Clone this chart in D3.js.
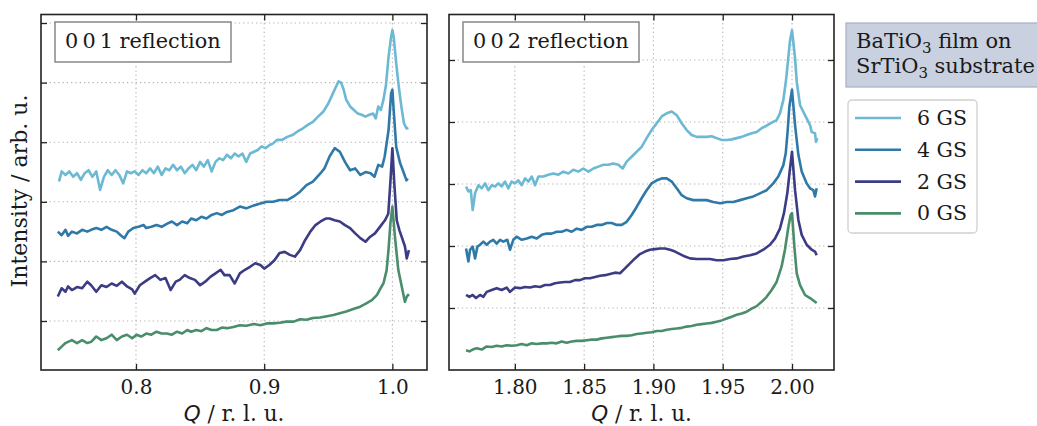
<!DOCTYPE html>
<html>
<head>
<meta charset="utf-8">
<script src="https://cdn.jsdelivr.net/npm/d3@7/dist/d3.min.js"></script>
<style>
  body { margin: 0; background: #fff; }
  text { font-family: "DejaVu Serif", serif; fill: #1a1a1a; }
</style>
</head>
<body>
<script>
//XRD scans of BaTiO3 on SrTiO3, two reflections, four growth stages

var seriesNames = ["6 GS", "4 GS", "2 GS", "0 GS"];
var seriesColors = ["#6cb9d3", "#2e79a8", "#3b3c84", "#4a8d6b"];

var xTicks001 = [0.8, 0.9, 1.0];
var yTicks001 = [1, 2, 3, 4, 5, 6];
var xTicks002 = [1.80, 1.85, 1.90, 1.95, 2.00];
var yTicks002 = [1, 2, 3, 4, 5];

// 0 0 1 reflection, [Q, intensity] (arb. u., offset per stage)
var gs6_001 = [[0.740,3.34],[0.742,3.51],[0.745,3.45],[0.748,3.51],[0.751,3.42],[0.754,3.48],[0.757,3.37],[0.760,3.48],[0.763,3.53],[0.766,3.42],[0.769,3.51],[0.772,3.20],[0.775,3.42],[0.778,3.53],[0.781,3.45],[0.784,3.53],[0.787,3.45],[0.790,3.31],[0.793,3.51],[0.796,3.48],[0.799,3.51],[0.802,3.45],[0.805,3.53],[0.808,3.48],[0.811,3.56],[0.814,3.48],[0.817,3.59],[0.820,3.45],[0.823,3.56],[0.826,3.53],[0.829,3.62],[0.832,3.53],[0.835,3.59],[0.838,3.48],[0.841,3.56],[0.844,3.62],[0.847,3.53],[0.850,3.67],[0.853,3.59],[0.856,3.70],[0.859,3.51],[0.862,3.67],[0.865,3.73],[0.868,3.70],[0.871,3.79],[0.874,3.73],[0.877,3.81],[0.880,3.76],[0.883,3.81],[0.886,3.67],[0.889,3.81],[0.892,3.84],[0.895,3.87],[0.898,3.93],[0.901,3.90],[0.904,3.95],[0.907,3.98],[0.910,4.04],[0.914,4.04],[0.918,4.09],[0.922,4.12],[0.926,4.18],[0.930,4.23],[0.934,4.29],[0.938,4.34],[0.942,4.43],[0.946,4.51],[0.950,4.65],[0.953,4.79],[0.956,4.93],[0.958,5.02],[0.960,5.00],[0.962,4.88],[0.964,4.71],[0.967,4.60],[0.970,4.54],[0.973,4.48],[0.976,4.46],[0.979,4.43],[0.982,4.46],[0.985,4.48],[0.987,4.40],[0.989,4.60],[0.991,4.54],[0.993,4.71],[0.995,4.96],[0.997,5.43],[0.999,5.77],[1.000,5.88],[1.001,5.77],[1.003,5.32],[1.005,4.93],[1.007,4.60],[1.009,4.32],[1.011,4.23],[1.0125,4.24]];
var gs4_001 = [[0.739,2.50],[0.742,2.44],[0.745,2.53],[0.747,2.43],[0.750,2.50],[0.754,2.47],[0.758,2.53],[0.762,2.50],[0.765,2.53],[0.769,2.56],[0.773,2.53],[0.777,2.58],[0.781,2.53],[0.785,2.50],[0.788,2.44],[0.791,2.39],[0.794,2.50],[0.798,2.56],[0.802,2.58],[0.806,2.61],[0.808,2.56],[0.812,2.58],[0.816,2.61],[0.820,2.58],[0.824,2.63],[0.828,2.67],[0.832,2.61],[0.836,2.67],[0.840,2.64],[0.843,2.72],[0.847,2.69],[0.851,2.75],[0.855,2.72],[0.859,2.78],[0.863,2.81],[0.867,2.78],[0.871,2.83],[0.876,2.86],[0.881,2.92],[0.886,2.89],[0.892,2.94],[0.897,2.97],[0.902,3.00],[0.907,3.00],[0.912,3.03],[0.918,3.03],[0.923,3.09],[0.928,3.17],[0.933,3.28],[0.938,3.34],[0.944,3.48],[0.947,3.56],[0.951,3.76],[0.955,3.90],[0.959,3.84],[0.963,3.67],[0.967,3.53],[0.971,3.56],[0.975,3.45],[0.979,3.50],[0.983,3.48],[0.986,3.42],[0.989,3.62],[0.992,3.59],[0.994,3.76],[0.997,4.20],[0.999,4.82],[1.000,4.88],[1.001,4.54],[1.003,3.92],[1.006,3.65],[1.009,3.48],[1.011,3.36],[1.012,3.39]];
var gs2_001 = [[0.739,1.41],[0.742,1.55],[0.745,1.49],[0.747,1.58],[0.750,1.52],[0.754,1.57],[0.758,1.55],[0.762,1.66],[0.765,1.60],[0.769,1.49],[0.773,1.60],[0.777,1.57],[0.781,1.63],[0.785,1.59],[0.789,1.66],[0.793,1.58],[0.797,1.53],[0.799,1.46],[0.803,1.60],[0.807,1.66],[0.811,1.72],[0.815,1.77],[0.819,1.69],[0.823,1.72],[0.827,1.52],[0.831,1.66],[0.834,1.69],[0.838,1.77],[0.842,1.72],[0.846,1.69],[0.850,1.60],[0.854,1.66],[0.858,1.74],[0.862,1.80],[0.866,1.86],[0.869,1.77],[0.873,1.77],[0.877,1.63],[0.881,1.80],[0.885,1.86],[0.889,1.91],[0.893,1.97],[0.897,1.94],[0.900,1.88],[0.904,1.94],[0.908,2.02],[0.912,2.14],[0.916,2.16],[0.920,2.11],[0.924,2.08],[0.928,2.19],[0.932,2.36],[0.936,2.50],[0.940,2.61],[0.944,2.67],[0.948,2.72],[0.951,2.72],[0.955,2.69],[0.959,2.67],[0.963,2.61],[0.967,2.56],[0.971,2.47],[0.975,2.39],[0.979,2.33],[0.9825,2.41],[0.9864,2.47],[0.9903,2.58],[0.9942,2.69],[0.9968,2.80],[0.9985,3.35],[1.000,3.90],[1.0015,3.30],[1.0034,2.69],[1.0055,2.52],[1.0073,2.41],[1.0098,2.25],[1.0112,2.05],[1.0129,2.19]];
var gs0_001 = [[0.739,0.51],[0.742,0.57],[0.745,0.63],[0.747,0.65],[0.750,0.68],[0.754,0.63],[0.758,0.68],[0.762,0.63],[0.765,0.65],[0.769,0.74],[0.773,0.68],[0.777,0.71],[0.781,0.77],[0.785,0.68],[0.789,0.74],[0.793,0.77],[0.797,0.71],[0.8005,0.77],[0.804,0.74],[0.808,0.79],[0.812,0.77],[0.816,0.82],[0.820,0.79],[0.824,0.79],[0.828,0.77],[0.832,0.82],[0.836,0.79],[0.840,0.85],[0.843,0.82],[0.847,0.85],[0.851,0.83],[0.855,0.88],[0.859,0.85],[0.863,0.85],[0.867,0.89],[0.871,0.88],[0.876,0.90],[0.881,0.93],[0.886,0.92],[0.892,0.95],[0.897,0.93],[0.902,0.96],[0.907,0.96],[0.912,0.97],[0.9175,0.99],[0.923,0.99],[0.928,1.03],[0.933,1.02],[0.938,1.05],[0.9435,1.06],[0.949,1.08],[0.954,1.10],[0.959,1.13],[0.964,1.16],[0.9695,1.20],[0.975,1.24],[0.980,1.30],[0.984,1.35],[0.988,1.44],[0.990,1.52],[0.993,1.63],[0.9955,1.85],[0.997,2.20],[0.9985,2.65],[1.000,2.92],[1.002,2.41],[1.0046,1.86],[1.0073,1.58],[1.0098,1.32],[1.0112,1.41],[1.0129,1.45]];

// 0 0 2 reflection
var gs6_002 = [[1.7648,2.96],[1.7665,2.88],[1.7682,2.90],[1.7696,2.58],[1.7713,2.85],[1.7737,2.98],[1.7761,2.93],[1.7785,3.01],[1.7809,2.90],[1.7833,2.98],[1.7857,2.96],[1.7881,3.01],[1.7905,2.96],[1.7929,3.04],[1.7953,2.93],[1.7977,3.04],[1.8001,3.01],[1.8025,3.06],[1.8050,2.98],[1.8074,3.09],[1.8098,3.04],[1.8122,3.12],[1.8146,2.98],[1.8170,3.12],[1.8206,3.12],[1.8242,3.15],[1.8278,3.17],[1.8314,3.15],[1.8350,3.20],[1.8386,3.17],[1.8422,3.23],[1.8458,3.20],[1.8494,3.25],[1.8531,3.20],[1.8567,3.25],[1.8603,3.28],[1.8639,3.31],[1.8675,3.31],[1.8711,3.33],[1.8747,3.31],[1.8778,3.25],[1.8807,3.36],[1.8843,3.44],[1.8879,3.52],[1.8915,3.60],[1.8951,3.74],[1.8987,3.87],[1.9024,3.98],[1.9060,4.09],[1.9096,4.14],[1.9132,4.17],[1.9168,4.11],[1.9204,3.98],[1.9240,3.87],[1.9276,3.79],[1.9312,3.76],[1.9348,3.76],[1.9384,3.76],[1.9420,3.77],[1.9456,3.74],[1.9493,3.71],[1.9529,3.71],[1.9565,3.72],[1.9601,3.74],[1.9637,3.76],[1.9673,3.79],[1.9709,3.82],[1.9745,3.84],[1.9781,3.90],[1.9817,3.94],[1.9853,3.99],[1.9889,4.03],[1.9913,4.14],[1.9937,4.35],[1.9957,4.68],[1.9974,5.05],[1.9986,5.32],[2.000,5.48],[2.0022,5.03],[2.0034,4.65],[2.0058,4.27],[2.0094,4.11],[2.0130,3.95],[2.0142,3.84],[2.0166,3.82],[2.0173,3.68],[2.0183,3.74]];
var gs4_002 = [[1.7648,1.96],[1.7665,1.75],[1.7677,1.94],[1.7696,1.99],[1.7713,1.80],[1.7730,1.99],[1.7749,2.02],[1.7773,2.07],[1.7797,2.02],[1.7821,2.07],[1.7845,2.10],[1.7869,2.04],[1.7893,2.10],[1.7917,2.07],[1.7946,2.10],[1.7965,1.94],[1.7989,2.10],[1.8013,2.15],[1.8050,2.10],[1.8086,2.12],[1.8122,2.15],[1.8158,2.12],[1.8194,2.18],[1.8230,2.20],[1.8266,2.20],[1.8302,2.23],[1.8338,2.23],[1.8374,2.26],[1.8410,2.23],[1.8446,2.28],[1.8482,2.26],[1.8519,2.31],[1.8555,2.31],[1.8591,2.34],[1.8627,2.34],[1.8663,2.37],[1.8699,2.37],[1.8735,2.34],[1.8771,2.34],[1.8807,2.39],[1.8843,2.50],[1.8879,2.63],[1.8915,2.77],[1.8951,2.90],[1.8987,3.01],[1.9024,3.06],[1.9060,3.09],[1.9096,3.09],[1.9132,3.04],[1.9168,2.93],[1.9204,2.82],[1.9240,2.77],[1.9288,2.74],[1.9336,2.74],[1.9384,2.74],[1.9432,2.71],[1.9481,2.69],[1.9529,2.71],[1.9577,2.71],[1.9625,2.74],[1.9673,2.77],[1.9721,2.80],[1.9769,2.85],[1.9817,2.90],[1.9865,3.01],[1.9901,3.12],[1.9937,3.30],[1.9955,3.50],[1.9968,3.84],[1.9981,4.25],[2.000,4.52],[2.0022,3.95],[2.0046,3.47],[2.0070,3.20],[2.0106,3.01],[2.0130,2.93],[2.0154,2.90],[2.0166,2.80],[2.0178,2.93]];
var gs2_002 = [[1.7648,1.21],[1.7672,1.18],[1.7696,1.21],[1.7720,1.16],[1.7749,1.21],[1.7773,1.18],[1.7797,1.26],[1.7833,1.29],[1.7869,1.32],[1.7905,1.29],[1.7941,1.33],[1.7965,1.26],[1.8001,1.33],[1.8037,1.32],[1.8074,1.34],[1.8110,1.33],[1.8146,1.35],[1.8182,1.34],[1.8218,1.37],[1.8254,1.37],[1.8290,1.40],[1.8326,1.41],[1.8362,1.42],[1.8398,1.42],[1.8434,1.45],[1.8470,1.45],[1.8506,1.48],[1.8543,1.48],[1.8579,1.50],[1.8615,1.52],[1.8651,1.53],[1.8687,1.55],[1.8723,1.57],[1.8759,1.56],[1.8795,1.64],[1.8831,1.72],[1.8867,1.80],[1.8903,1.87],[1.8939,1.91],[1.8975,1.94],[1.9012,1.95],[1.9048,1.96],[1.9084,1.96],[1.9120,1.94],[1.9156,1.91],[1.9192,1.87],[1.9228,1.83],[1.9264,1.80],[1.9312,1.79],[1.9360,1.79],[1.9408,1.79],[1.9456,1.77],[1.9505,1.77],[1.9553,1.79],[1.9601,1.80],[1.9649,1.83],[1.9697,1.85],[1.9745,1.88],[1.9793,1.94],[1.9841,2.02],[1.9877,2.12],[1.9913,2.28],[1.9942,2.53],[1.9966,2.85],[1.9983,3.20],[2.000,3.52],[2.0022,2.90],[2.0046,2.42],[2.0070,2.18],[2.0106,2.02],[2.0142,1.94],[2.0166,1.91],[2.0178,1.85]];
var gs0_002 = [[1.7648,0.32],[1.7672,0.30],[1.7696,0.33],[1.7725,0.35],[1.7761,0.33],[1.7797,0.38],[1.7833,0.37],[1.7869,0.39],[1.7905,0.38],[1.7941,0.40],[1.7977,0.39],[1.8013,0.40],[1.8050,0.42],[1.8086,0.40],[1.8122,0.43],[1.8158,0.42],[1.8194,0.43],[1.8230,0.43],[1.8266,0.44],[1.8302,0.43],[1.8338,0.46],[1.8374,0.44],[1.8410,0.46],[1.8446,0.47],[1.8482,0.47],[1.8519,0.48],[1.8555,0.49],[1.8591,0.49],[1.8627,0.51],[1.8663,0.52],[1.8699,0.53],[1.8735,0.54],[1.8771,0.55],[1.8807,0.55],[1.8843,0.56],[1.8879,0.58],[1.8915,0.59],[1.8951,0.60],[1.8987,0.61],[1.9024,0.63],[1.9060,0.63],[1.9096,0.65],[1.9132,0.66],[1.9168,0.67],[1.9204,0.68],[1.9240,0.70],[1.9276,0.71],[1.9312,0.73],[1.9348,0.74],[1.9384,0.75],[1.9420,0.76],[1.9456,0.78],[1.9493,0.80],[1.9529,0.83],[1.9565,0.86],[1.9601,0.89],[1.9637,0.91],[1.9673,0.94],[1.9709,0.99],[1.9745,1.03],[1.9781,1.10],[1.9817,1.18],[1.9853,1.29],[1.9889,1.42],[1.9925,1.67],[1.9949,1.94],[1.9974,2.31],[1.9990,2.50],[2.000,2.53],[2.0017,1.99],[2.0034,1.56],[2.0058,1.37],[2.0094,1.21],[2.0130,1.16],[2.0166,1.10],[2.0178,1.08]];

var w = 1037;
var h = 426;
var plotTop = 14.5, plotBottom = 370;

var svg = d3.select("body")
    .append("svg")
    .attr("width", w)
    .attr("height", h);

var panels = [
    { x0: 41, x1: 427, xDomain: [0.7259, 1.027], yDomain: [0.178, 6.143],
      xTicks: xTicks001, yTicks: yTicks001, fmt: ".1f",
      label: "0\u20090\u20091 reflection", series: [gs6_001, gs4_001, gs2_001, gs0_001] },
    { x0: 449, x1: 834, xDomain: [1.7525, 2.0303], yDomain: [0, 5.734],
      xTicks: xTicks002, yTicks: yTicks002, fmt: ".2f",
      label: "0\u20090\u20092 reflection", series: [gs6_002, gs4_002, gs2_002, gs0_002] }
];

panels.forEach(function(p) {
    var x = d3.scaleLinear().domain(p.xDomain).range([p.x0, p.x1]);
    var y = d3.scaleLinear().domain(p.yDomain).range([plotBottom, plotTop]);
    var g = svg.append("g");

    //dotted grid
    g.selectAll(".vgrid")
        .data(p.xTicks)
        .enter()
        .append("line")
        .attr("x1", function(d) { return x(d); })
        .attr("x2", function(d) { return x(d); })
        .attr("y1", plotTop)
        .attr("y2", plotBottom)
        .attr("stroke", "#b3b3b3")
        .attr("stroke-width", 1.1)
        .attr("stroke-dasharray", "1.3,3");
    g.selectAll(".hgrid")
        .data(p.yTicks)
        .enter()
        .append("line")
        .attr("x1", p.x0)
        .attr("x2", p.x1)
        .attr("y1", function(d) { return y(d); })
        .attr("y2", function(d) { return y(d); })
        .attr("stroke", "#b3b3b3")
        .attr("stroke-width", 1.1)
        .attr("stroke-dasharray", "1.3,3");

    var line = d3.line()
        .x(function(d) { return x(d[0]); })
        .y(function(d) { return y(d[1]); });

    g.selectAll(".scan")
        .data(p.series)
        .enter()
        .append("path")
        .attr("d", line)
        .attr("fill", "none")
        .attr("stroke", function(d, i) { return seriesColors[i]; })
        .attr("stroke-width", 2.6)
        .attr("stroke-linejoin", "round");

    //inward ticks on all four sides
    var axB = g.append("g").attr("transform", "translate(0," + plotBottom + ")")
        .call(d3.axisBottom(x).tickValues(p.xTicks).tickSize(-6).tickPadding(10).tickFormat(d3.format(p.fmt)));
    var axT = g.append("g").attr("transform", "translate(0," + plotTop + ")")
        .call(d3.axisTop(x).tickValues(p.xTicks).tickSize(-6).tickFormat(""));
    var axL = g.append("g").attr("transform", "translate(" + p.x0 + ",0)")
        .call(d3.axisLeft(y).tickValues(p.yTicks).tickSize(-6).tickFormat(""));
    var axR = g.append("g").attr("transform", "translate(" + p.x1 + ",0)")
        .call(d3.axisRight(y).tickValues(p.yTicks).tickSize(-6).tickFormat(""));
    [axB, axT, axL, axR].forEach(function(a) {
        a.select(".domain").remove();
        a.selectAll("line").attr("stroke", "#222").attr("stroke-width", 1.3);
    });
    axB.selectAll("text")
        .style("font-family", "DejaVu Serif")
        .style("font-size", "20px")
        .attr("fill", "#1a1a1a");

    g.append("rect")
        .attr("x", p.x0)
        .attr("y", plotTop)
        .attr("width", p.x1 - p.x0)
        .attr("height", plotBottom - plotTop)
        .attr("fill", "none")
        .attr("stroke", "#222")
        .attr("stroke-width", 1.6);

    //reflection label box
    g.append("rect")
        .attr("x", p.x0 + 14)
        .attr("y", 22)
        .attr("width", 176)
        .attr("height", 40)
        .attr("fill", "#fff")
        .attr("stroke", "#888")
        .attr("stroke-width", 1.5);
    g.append("text")
        .attr("x", p.x0 + 24)
        .attr("y", 48)
        .style("font-size", "20.8px")
        .text(p.label);

    var xl = g.append("text")
        .attr("x", (p.x0 + p.x1) / 2)
        .attr("y", 421)
        .attr("text-anchor", "middle")
        .style("font-size", "21.5px");
    xl.append("tspan").style("font-family", "DejaVu Sans").style("font-style", "italic").text("Q");
    xl.append("tspan").text(" / r. l. u.");
});

svg.append("text")
    .attr("transform", "translate(27,191) rotate(-90)")
    .attr("text-anchor", "middle")
    .style("font-size", "22px")
    .text("Intensity / arb. u.");

//legend title box
svg.append("rect")
    .attr("x", 846)
    .attr("y", 23)
    .attr("width", 200)
    .attr("height", 64)
    .attr("fill", "#c9d1e0")
    .attr("stroke", "#a7afc0")
    .attr("stroke-width", 1.2);
var t1 = svg.append("text").attr("x", 856).attr("y", 48).style("font-size", "21px");
t1.append("tspan").text("BaTiO");
t1.append("tspan").attr("dy", 5).style("font-size", "15px").text("3");
t1.append("tspan").attr("dy", -5).text(" film on");
var t2 = svg.append("text").attr("x", 856).attr("y", 73).style("font-size", "21px");
t2.append("tspan").text("SrTiO");
t2.append("tspan").attr("dy", 5).style("font-size", "15px").text("3");
t2.append("tspan").attr("dy", -5).text(" substrate");

//legend
svg.append("rect")
    .attr("x", 848)
    .attr("y", 100)
    .attr("width", 129)
    .attr("height", 133)
    .attr("rx", 4)
    .attr("fill", "#fff")
    .attr("stroke", "#cfcfcf")
    .attr("stroke-width", 1.3);

var items = svg.selectAll(".legItem")
    .data(seriesNames)
    .enter()
    .append("g")
    .attr("class", "legItem")
    .attr("transform", function(d, i) { return "translate(0," + (118 + i * 31.8) + ")"; });
items.append("line")
    .attr("x1", 855)
    .attr("x2", 901)
    .attr("stroke", function(d, i) { return seriesColors[i]; })
    .attr("stroke-width", 2.6);
items.append("text")
    .attr("x", 917)
    .attr("y", 7)
    .style("font-size", "20.5px")
    .text(function(d) { return d; });
</script>
</body>
</html>
